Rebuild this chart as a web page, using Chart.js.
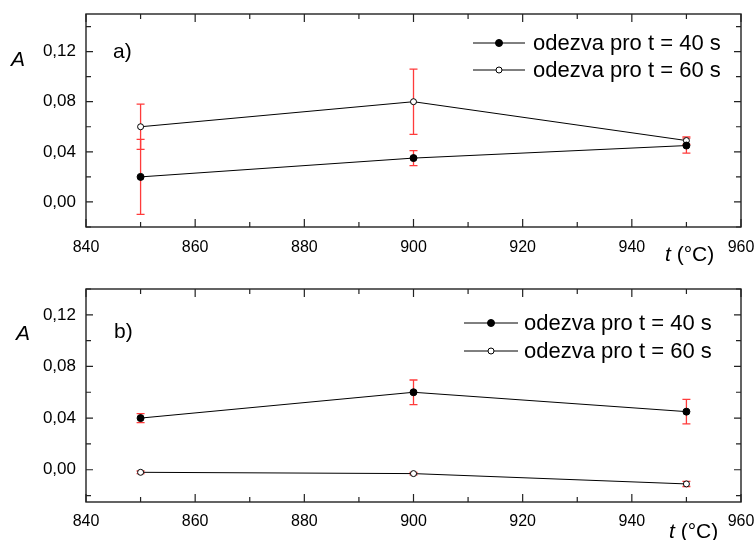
<!DOCTYPE html>
<html lang="cs">
  <head>
    <meta charset="UTF-8" />
    <title>odezva senzoru</title>
    <script src="https://cdn.jsdelivr.net/npm/chart.js"></script>
    <style>
      body { margin: 0; background: #fff; }
      canvas { display: block; }
    </style>
  </head>
  <body>
    <canvas id="grafA" width="756" height="270"></canvas>
    <canvas id="grafB" width="756" height="270"></canvas>

<script>
  // teploty mereni (°C)
  const teploty = [850, 900, 950];

  // a) odezva a smerodatne odchylky
  const odezvaA40 = [0.020, 0.035, 0.045];
  const chybaA40 = [0.030, 0.006, 0.006];
  const odezvaA60 = [0.060, 0.080, 0.049];
  const chybaA60 = [0.018, 0.026, 0.003];

  // b)
  const odezvaB40 = [0.040, 0.060, 0.045];
  const chybaB40 = [0.0035, 0.0095, 0.0095];
  const odezvaB60 = [-0.002, -0.003, -0.011];
  const chybaB60 = [0.001, 0.001, 0.002];

  const popisky = ["odezva pro t = 40 s", "odezva pro t = 60 s"];

  const PISMO = "'Liberation Sans', Arial, sans-serif";

  function jeNasobek(v, krok) {
    const q = v / krok;
    return Math.abs(q - Math.round(q)) < 1e-6;
  }

  function body(hodnoty) {
    return teploty.map(function (t, i) { return { x: t, y: hodnoty[i] }; });
  }

  function vytvorGraf(idCanvas, nastaveni) {
    const chyby = nastaveni.chyby;

    // chybove useky, ramecek, ticky dovnitr, legenda a popisy os
    const kresleni = {
      id: "kresleni_" + idCanvas,
      beforeDatasetsDraw(chart) {
        const ctx = chart.ctx;
        const sx = chart.scales.x;
        const sy = chart.scales.y;
        ctx.save();
        ctx.strokeStyle = "#ff3b3b";
        ctx.lineWidth = 1.3;
        chart.data.datasets.forEach(function (ds, i) {
          ds.data.forEach(function (b, j) {
            const x = sx.getPixelForValue(b.x);
            const yh = sy.getPixelForValue(b.y + chyby[i][j]);
            const yd = sy.getPixelForValue(b.y - chyby[i][j]);
            ctx.beginPath();
            ctx.moveTo(x, yh); ctx.lineTo(x, yd);
            ctx.moveTo(x - 4, yh); ctx.lineTo(x + 4, yh);
            ctx.moveTo(x - 4, yd); ctx.lineTo(x + 4, yd);
            ctx.stroke();
          });
        });
        ctx.restore();
      },
      afterDraw(chart) {
        const ctx = chart.ctx;
        const a = chart.chartArea;
        const sx = chart.scales.x;
        const sy = chart.scales.y;
        ctx.save();

        // ramecek
        ctx.strokeStyle = "#222";
        ctx.lineWidth = 1.4;
        ctx.strokeRect(a.left, a.top, a.right - a.left, a.bottom - a.top);

        // ticky
        ctx.lineWidth = 1.2;
        ctx.beginPath();
        sx.ticks.forEach(function (t) {
          if (!jeNasobek(t.value, 10)) return;
          const px = sx.getPixelForValue(t.value);
          const d = jeNasobek(t.value, 20) ? 8 : 5;
          ctx.moveTo(px, a.bottom); ctx.lineTo(px, a.bottom - d);
          ctx.moveTo(px, a.top); ctx.lineTo(px, a.top + d);
        });
        sy.ticks.forEach(function (t) {
          if (!jeNasobek(t.value, 0.02)) return;
          const py = sy.getPixelForValue(t.value);
          const d = jeNasobek(t.value, 0.04) ? 7 : 5;
          ctx.moveTo(a.left, py); ctx.lineTo(a.left + d, py);
          ctx.moveTo(a.right, py); ctx.lineTo(a.right - d, py);
        });
        ctx.stroke();

        // legenda
        const lg = nastaveni.legenda;
        ctx.textBaseline = "middle";
        ctx.textAlign = "left";
        ctx.font = "22px " + PISMO;
        chart.data.datasets.forEach(function (ds, i) {
          const y = lg.y[i];
          ctx.strokeStyle = "#000";
          ctx.lineWidth = 1;
          ctx.beginPath();
          ctx.moveTo(lg.x1, y); ctx.lineTo(lg.x2, y);
          ctx.stroke();
          ctx.beginPath();
          ctx.arc(lg.xm, y, ds.pointRadius, 0, Math.PI * 2);
          ctx.fillStyle = ds.pointBackgroundColor;
          ctx.fill();
          ctx.stroke();
          ctx.fillStyle = "#000";
          ctx.fillText(ds.label, lg.xt, y + 1);
        });

        // oznaceni panelu
        ctx.font = "21px " + PISMO;
        ctx.fillText(nastaveni.panel, nastaveni.panelX, nastaveni.panelY);

        // popis osy y
        ctx.font = "italic 21px " + PISMO;
        ctx.fillText("A", nastaveni.osaYX, nastaveni.osaYY);

        // popis osy x
        ctx.font = "italic 21px " + PISMO;
        ctx.fillText("t", nastaveni.osaXX, nastaveni.osaXY);
        const w = ctx.measureText("t ").width;
        ctx.font = "21px " + PISMO;
        ctx.fillText("(°C)", nastaveni.osaXX + w, nastaveni.osaXY);

        ctx.restore();
      }
    };

    const data = {
      datasets: [
        {
          label: popisky[0],
          data: body(nastaveni.rady[0]),
          showLine: true,
          borderColor: "#000",
          borderWidth: 1,
          pointRadius: 3.5,
          pointBackgroundColor: "#000",
          pointBorderColor: "#000",
          pointBorderWidth: 1,
        },
        {
          label: popisky[1],
          data: body(nastaveni.rady[1]),
          showLine: true,
          borderColor: "#000",
          borderWidth: 1,
          pointRadius: 3,
          pointBackgroundColor: "#fff",
          pointBorderColor: "#000",
          pointBorderWidth: 1,
        },
      ],
    };

    const config = {
      type: "scatter",
      data: data,
      options: {
        responsive: false,
        animation: false,
        devicePixelRatio: 1,
        layout: { padding: { top: nastaveni.horni, right: 15, left: 0, bottom: 0 } },
        plugins: { legend: { display: false }, tooltip: { enabled: false } },
        scales: {
          x: {
            type: "linear",
            min: 840,
            max: 960,
            // mezera pod osou pres tickLength (ticky samotne se nekresli)
            grid: { display: false, drawTicks: true, tickLength: nastaveni.xOdsazeni },
            border: { display: false },
            ticks: {
              stepSize: 10,
              includeBounds: false,
              autoSkip: false,
              maxRotation: 0,
              padding: 0,
              color: "#000",
              font: { size: 16, family: PISMO },
              callback: function (v) { return jeNasobek(v, 20) ? String(v) : ""; },
            },
            afterFit: function (s) { s.height = nastaveni.vyskaX; },
          },
          y: {
            min: nastaveni.yMin,
            max: nastaveni.yMax,
            grid: { display: false, drawTicks: true, tickLength: 10 },
            border: { display: false },
            ticks: {
              stepSize: 0.02,
              includeBounds: false,
              autoSkip: false,
              padding: 0,
              color: "#000",
              font: { size: 17, family: PISMO },
              callback: function (v) {
                return jeNasobek(v, 0.04) ? Math.abs(v).toFixed(2).replace(".", ",") : "";
              },
            },
            afterFit: function (s) { s.width = 86; },
          },
        },
      },
      plugins: [kresleni],
    };

    return new Chart(document.getElementById(idCanvas), config);
  }

  vytvorGraf("grafA", {
    rady: [odezvaA40, odezvaA60],
    chyby: [chybaA40, chybaA60],
    yMin: -0.02,
    yMax: 0.15,
    horni: 14,
    vyskaX: 43,
    xOdsazeni: 11,
    legenda: { x1: 473, x2: 525, xm: 499, xt: 533, y: [43, 70] },
    panel: "a)", panelX: 113, panelY: 52,
    osaYX: 11, osaYY: 60,
    osaXX: 665, osaXY: 255,
  });

  vytvorGraf("grafB", {
    rady: [odezvaB40, odezvaB60],
    chyby: [chybaB40, chybaB60],
    yMin: -0.025,
    yMax: 0.14,
    horni: 19,
    vyskaX: 38,
    xOdsazeni: 10,
    legenda: { x1: 464, x2: 518, xm: 491, xt: 524, y: [53, 81] },
    panel: "b)", panelX: 114, panelY: 62,
    osaYX: 16, osaYY: 64,
    osaXX: 669, osaXY: 262,
  });
</script>
  </body>
</html>
